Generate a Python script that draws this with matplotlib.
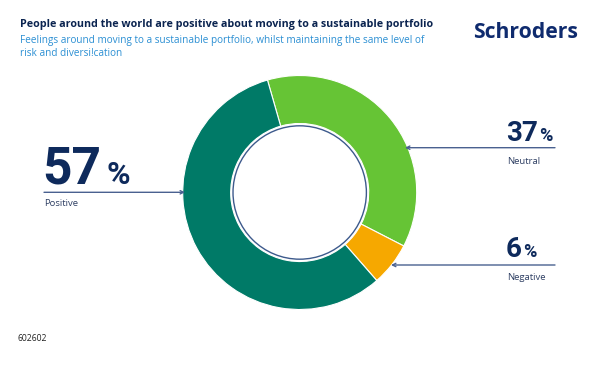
import matplotlib
matplotlib.use("Agg")
import matplotlib.pyplot as plt
from matplotlib.patches import Circle, FancyArrowPatch

categories = ["Neutral", "Negative", "Positive"]
values = [37, 6, 57]
colors = ["#66C435", "#F6A800", "#007A67"]
labels_pct = ["37", "6", "57"]

W, H = 600, 368
fig = plt.figure(figsize=(W / 100, H / 100), dpi=100)

def fx(x):
    return x / W

def fy(y):
    return 1 - y / H

NAVY = "#0E2A5C"
LINE = "#4A6190"
BLUE = "#2B8FD3"
NUMFONT = dict(family="Roboto", fontweight="bold", fontstyle="normal", color=NAVY, va="baseline")

# Donut
cx, cy, R = 299.7, 192.5, 117
ax = fig.add_axes([fx(cx - R), fy(cy + R), 2 * R / W, 2 * R / H])
ax.pie(values, colors=colors, startangle=106, counterclock=False, radius=1,
       wedgeprops=dict(width=0.41, edgecolor="white", linewidth=0.8))
ax.add_patch(Circle((0, 0), 0.57, fill=False, edgecolor="#3D5A8C", linewidth=1.0))
ax.set_xlim(-1, 1)
ax.set_ylim(-1, 1)
ax.set_aspect("equal")
ax.axis("off")

# Titles
fig.text(fx(20), fy(27), "People around the world are positive about moving to a sustainable portfolio",
         fontsize=7.75, fontweight="bold", color="#0B2450", family="Open Sans", va="baseline")
fig.text(fx(20), fy(43), "Feelings around moving to a sustainable portfolio, whilst maintaining the same level of",
         fontsize=7.2, color=BLUE, family="Open Sans", va="baseline")
fig.text(fx(20), fy(55.5), "risk and diversi!cation",
         fontsize=7.2, color=BLUE, family="Open Sans", va="baseline")
fig.text(fx(473), fy(38), "Schroders", fontsize=15.2, fontweight="bold", color="#0F2B6E",
         family="Open Sans", va="baseline")
fig.text(fx(18), fy(341), "602602", fontsize=6.2, color="#222222", family="Open Sans", va="baseline")

def annot(x0, x1, y):
    fig.add_artist(FancyArrowPatch((fx(x0), fy(y)), (fx(x1), fy(y)), transform=fig.transFigure,
                                   arrowstyle="->", color=LINE, lw=1.0, shrinkA=0, shrinkB=0,
                                   mutation_scale=6))

# Positive
fig.text(fx(42), fy(183.5), labels_pct[2], fontsize=37, **NUMFONT)
fig.text(fx(106.5), fy(183.5), "%", fontsize=23, **NUMFONT)
annot(44, 185, 192.3)
fig.text(fx(44), fy(205.5), categories[2], fontsize=6.8, color="#2E3F63", family="Open Sans", va="baseline")

# Neutral
fig.text(fx(506), fy(141.3), labels_pct[0], fontsize=20, **NUMFONT)
fig.text(fx(539), fy(141.3), "%", fontsize=13, **NUMFONT)
annot(555, 405, 147.7)
fig.text(fx(507), fy(163.5), categories[0], fontsize=6.8, color="#2E3F63", family="Open Sans", va="baseline")

# Negative
fig.text(fx(506), fy(257.3), labels_pct[1], fontsize=20, **NUMFONT)
fig.text(fx(523), fy(257.3), "%", fontsize=13, **NUMFONT)
annot(555, 391, 265)
fig.text(fx(507), fy(280), categories[1], fontsize=6.8, color="#2E3F63", family="Open Sans", va="baseline")

fig.savefig("out.png", dpi=100, facecolor="white")
